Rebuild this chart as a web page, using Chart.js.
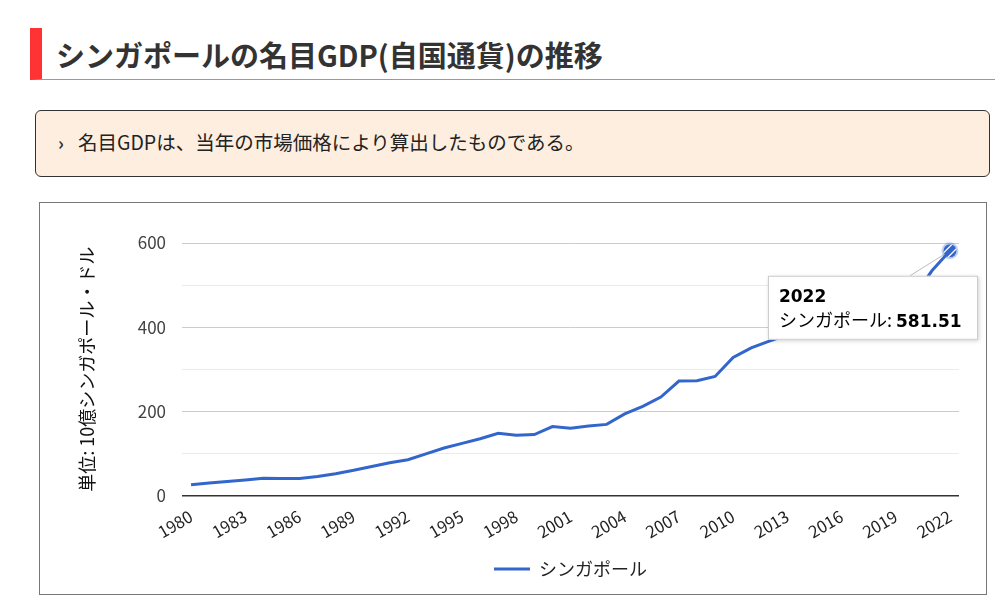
<!DOCTYPE html>
<html lang="ja">
<head>
<meta charset="utf-8">
<title>シンガポールの名目GDP(自国通貨)の推移</title>
<script src="https://cdn.jsdelivr.net/npm/chart.js@4.4.1/dist/chart.umd.min.js"></script>
<style>
  body { margin: 0; background: #fff; font-family: "Noto Sans CJK JP", sans-serif; }
  .heading {
    position: absolute; left: 30px; top: 28px; width: 965px; height: 52px;
    border-left: 12px solid #f33; border-bottom: 1px solid #999; box-sizing: border-box;
  }
  .heading h2 {
    margin: 0; position: absolute; left: 14px; top: 5px;
    font-size: 29px; font-weight: 700; color: #333;
  }
  .note {
    position: absolute; left: 35px; top: 110px; width: 955px; height: 67px;
    box-sizing: border-box; border: 1px solid #333; border-radius: 6px; background: #fdeee0;
  }
  .note span.mark { position: absolute; left: 22px; top: 18px; font-size: 18px; font-weight: 700; color: #333; }
  .note p { margin: 0; position: absolute; left: 42px; top: 16px; font-size: 19.5px; color: #222; }
  .chartbox {
    position: absolute; left: 39px; top: 202px; width: 948px; height: 393px;
    box-sizing: border-box; border: 1px solid #777;
  }
  .chartbox canvas { position: absolute; left: 0; top: 0; }
</style>
</head>
<body>
<div class="heading"><h2>シンガポールの名目GDP(自国通貨)の推移</h2></div>
<div class="note"><span class="mark">›</span><p>名目GDPは、当年の市場価格により算出したものである。</p></div>
<div class="chartbox"><canvas id="chart" width="946" height="391"></canvas></div>
<script>
// years on the x axis
const years = [
  '1980', '1981', '1982', '1983', '1984', '1985', '1986', '1987', '1988', '1989',
  '1990', '1991', '1992', '1993', '1994', '1995', '1996', '1997', '1998', '1999',
  '2000', '2001', '2002', '2003', '2004', '2005', '2006', '2007', '2008', '2009',
  '2010', '2011', '2012', '2013', '2014', '2015', '2016', '2017', '2018', '2019',
  '2020', '2021', '2022'
];

// nominal GDP, billions of SGD (2013-2020 hidden behind the tooltip)
const gdp = [
  25.5, 30, 33.5, 37, 41, 40.5, 40.5, 45, 52, 60,
  69, 78, 85, 99, 113, 124, 135, 148, 143, 145,
  164, 160, 165, 169, 194, 212, 234, 272, 273, 283,
  328, 351, 367, 382, 397, 412, 425, 455, 482, 487,
  472, 534, 581.51
];

const seriesName = 'シンガポール';
const yTitle = '単位: 10億シンガポール・ドル';
const yTickLabels = [0, 200, 400, 600];

const lineColor = '#3366cc';
const cjk = '"Noto Sans CJK JP", sans-serif';
const digits = '"DejaVu Sans", "Noto Sans CJK JP", sans-serif';

// draws the focused point and the white callout box for the last year
const calloutPlugin = {
  id: 'callout',
  afterLayout(chart) {
    // centre the legend under the plot area, not the whole canvas
    const lg = chart.legend;
    lg.left = chart.chartArea.left;
    lg.right = chart.chartArea.right;
    lg.width = lg.right - lg.left;
  },
  afterDraw(chart) {
    const ctx = chart.ctx;
    const idx = gdp.length - 1;
    const pt = chart.getDatasetMeta(0).data[idx];
    const px = pt.x, py = pt.y;
    const bx = px - 182, by = py + 25, bw = 210, bh = 64;

    ctx.save();
    // connector
    ctx.strokeStyle = '#bbb';
    ctx.lineWidth = 1;
    ctx.beginPath();
    ctx.moveTo(px, py);
    ctx.lineTo(px - 40, by);
    ctx.stroke();

    // point halo + point
    ctx.fillStyle = 'rgba(51,102,204,0.3)';
    ctx.beginPath(); ctx.arc(px, py, 8.5, 0, Math.PI * 2); ctx.fill();
    ctx.fillStyle = lineColor;
    ctx.beginPath(); ctx.arc(px, py, 6.5, 0, Math.PI * 2); ctx.fill();
    ctx.save();
    ctx.beginPath(); ctx.arc(px, py, 6.5, 0, Math.PI * 2); ctx.clip();
    ctx.strokeStyle = '#fff';
    ctx.lineWidth = 1.3;
    for (const o of [-2.2, 2.2]) {
      ctx.beginPath();
      ctx.moveTo(px - 7 + o, py + 7 + o);
      ctx.lineTo(px + 7 + o, py - 7 + o);
      ctx.stroke();
    }
    ctx.restore();

    // box
    ctx.shadowColor = 'rgba(0,0,0,0.18)';
    ctx.shadowBlur = 4;
    ctx.shadowOffsetX = 1;
    ctx.shadowOffsetY = 1;
    ctx.fillStyle = '#fff';
    ctx.fillRect(bx, by, bw, bh);
    ctx.shadowColor = 'transparent';
    ctx.strokeStyle = '#ccc';
    ctx.strokeRect(bx + 0.5, by + 0.5, bw - 1, bh - 1);

    // text
    ctx.fillStyle = '#000';
    ctx.textBaseline = 'alphabetic';
    ctx.font = 'bold 17px ' + digits;
    ctx.fillText(years[idx], bx + 11, by + 26);
    ctx.font = '18px ' + cjk;
    const label = seriesName + ': ';
    ctx.fillText(label, bx + 11, by + 51);
    const w = ctx.measureText(label).width;
    ctx.font = 'bold 17px ' + digits;
    ctx.fillText(gdp[idx].toFixed(2), bx + 11 + w, by + 51);
    ctx.restore();
  }
};

new Chart(document.getElementById('chart'), {
  type: 'line',
  data: {
    labels: years,
    datasets: [{
      label: seriesName,
      data: gdp,
      borderColor: lineColor,
      backgroundColor: lineColor,
      borderWidth: 3,
      pointRadius: 0,
      tension: 0
    }]
  },
  options: {
    responsive: false,
    animation: false,
    layout: { padding: { left: 10, right: 27, top: 40, bottom: 6 } },
    plugins: {
      legend: {
        position: 'bottom',
        labels: {
          usePointStyle: true,
          pointStyle: 'line',
          pointStyleWidth: 36,
          boxHeight: 17,
          padding: 10,
          color: '#222',
          font: { family: cjk, size: 18 }
        }
      },
      tooltip: { enabled: false }
    },
    scales: {
      x: {
        offset: true,
        afterFit(scale) { scale.height += 5; },
        grid: { display: false },
        border: { display: false },
        ticks: {
          autoSkip: false,
          maxRotation: 30,
          minRotation: 30,
          color: '#222',
          font: { family: cjk, size: 16.5 },
          callback: (v, i) => (i % 3 === 0 ? years[i] : '')
        }
      },
      y: {
        min: 0,
        max: 600,
        afterFit(scale) { scale.width = 132; },
        border: { display: false },
        grid: {
          drawTicks: false,
          color: ctx => {
            const v = ctx.tick.value;
            if (v === 0) return '#333';
            return yTickLabels.includes(v) ? '#ccc' : '#ebebeb';
          },
          lineWidth: ctx => (ctx.tick.value === 0 ? 1.5 : 1)
        },
        ticks: {
          stepSize: 100,
          padding: 16,
          color: '#444',
          font: { family: cjk, size: 17 },
          callback: v => (yTickLabels.includes(v) ? String(v) : '')
        },
        title: {
          display: true,
          text: yTitle,
          color: '#111',
          font: { family: cjk, size: 18 },
          padding: { top: 26, bottom: 0 }
        }
      }
    }
  },
  plugins: [calloutPlugin]
});
</script>
</body>
</html>
